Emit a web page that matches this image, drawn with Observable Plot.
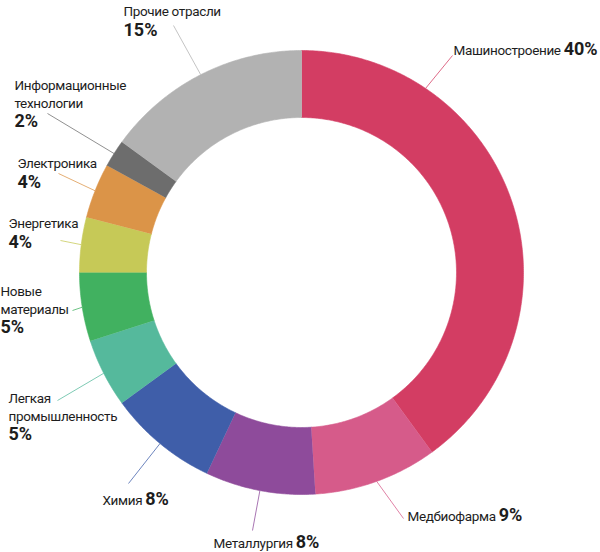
<!DOCTYPE html>
<html>
<head>
<meta charset="utf-8">
<script src="https://cdn.jsdelivr.net/npm/d3@7"></script>
<script src="https://cdn.jsdelivr.net/npm/@observablehq/plot@0.6"></script>
<style>
  html, body { margin: 0; padding: 0; background: #fff; }
</style>
</head>
<body>
<div id="chart"></div>
<script>
// ---- data ----
const names = [
  "Машиностроение", "Медбиофарма", "Металлургия", "Химия",
  "Легкая\nпромышленность", "Новые\nматериалы", "Энергетика",
  "Электроника", "Информационные\nтехнологии", "Прочие отрасли"
];
const shares = [40, 9, 8, 8, 5, 5, 4, 4, 2, 15];
const colors = [
  "#d33d63", "#d65b8a", "#8e4b9b", "#3f5ea9", "#55b99c",
  "#41b160", "#c6c957", "#db9448", "#6d6d6d", "#b2b2b2"
];
// inline labels (name and percent on one line) vs stacked labels
const inline = [true, true, true, true, false, false, false, false, false, false];

// ---- layout (pixels) ----
const W = 600, H = 552;
const CX = 301, CY = 272, R_OUT = 222, R_IN = 155;
const FS = 13.5, FS_PCT = 18;
// label anchor (left x, top of first line) and leader end point
const labelPos = [
  [453, 42], [407, 508], [213, 535], [102, 492], [8, 390],
  [0, 283], [8, 215], [17, 155], [14, 77], [123, 3]
];
const leaderEnd = [
  [452, 55], [403, 518], [252, 530], [128, 483], [57, 400],
  [72, 310], [60, 240], [58, 173], [47, 113], [173, 25]
];
const leaderFrac = [0.236, 0.5, 0.5, 0.5, 0.5, 0.5, 0.5, 0.5, 0.5, 0.5];

const px2x = px => (px - CX) / R_OUT;
const py2y = py => (CY - py) / R_OUT;
const rIn = R_IN / R_OUT;

// ---- build slices from shares ----
const total = d3.sum(shares);
const arcPts = [];
const leaders = [];
const labels = [];
let cum = 0;
names.forEach((name, i) => {
  const a0 = cum / total * 2 * Math.PI;
  const a1 = (cum + shares[i]) / total * 2 * Math.PI;
  cum += shares[i];
  const n = Math.max(4, Math.ceil((a1 - a0) / (Math.PI / 360)));
  for (let j = 0; j <= n; j++) {
    const t = a0 + (a1 - a0) * j / n;
    arcPts.push({name, x: Math.sin(t), y: Math.cos(t)});
  }
  for (let j = n; j >= 0; j--) {
    const t = a0 + (a1 - a0) * j / n;
    arcPts.push({name, x: rIn * Math.sin(t), y: rIn * Math.cos(t)});
  }
  const am = a0 + (a1 - a0) * leaderFrac[i];
  leaders.push({
    name,
    x1: Math.sin(am), y1: Math.cos(am),
    x2: px2x(leaderEnd[i][0]), y2: py2y(leaderEnd[i][1])
  });
  labels.push({
    name,
    label: inline[i] ? `${name} ${shares[i]}%` : `${name}\n${shares[i]}%`,
    x: px2x(labelPos[i][0]), y: py2y(labelPos[i][1])
  });
});

const plot = Plot.plot({
  width: W,
  height: H,
  margin: 0,
  style: {fontFamily: "Roboto, sans-serif", background: "#fff"},
  x: {domain: [-1, 1], range: [CX - R_OUT, CX + R_OUT], axis: null},
  y: {domain: [-1, 1], range: [CY + R_OUT, CY - R_OUT], axis: null},
  color: {domain: names, range: colors},
  marks: [
    Plot.line(arcPts, {x: "x", y: "y", z: "name", fill: "name", stroke: "name", strokeWidth: 0.6, curve: "linear"}),
    Plot.link(leaders, {x1: "x1", y1: "y1", x2: "x2", y2: "y2", stroke: "name", strokeWidth: 0.9, strokeOpacity: 0.85}),
    Plot.text(labels, {
      x: "x", y: "y", text: "label",
      textAnchor: "start", lineAnchor: "top", lineHeight: 1.3,
      fontSize: FS, fill: "#1d1d1d"
    })
  ]
});

// make the percentages bold and larger
const svgns = "http://www.w3.org/2000/svg";
plot.querySelectorAll("text, tspan").forEach(el => {
  if (el.children.length) return;
  const m = el.textContent.match(/^(.*?)\s*(\d+%)$/);
  if (!m) return;
  el.setAttribute("letter-spacing", "0");
  if (m[1]) {
    // inline: name + bold percent on the same line
    el.setAttribute("letter-spacing", "-0.35");
    el.textContent = m[1] + " ";
    const t = document.createElementNS(svgns, "tspan");
    t.setAttribute("font-weight", "bold");
    t.setAttribute("font-size", FS_PCT);
    t.setAttribute("letter-spacing", "0");
    t.textContent = m[2];
    el.appendChild(t);
  } else {
    // stacked: percent line on its own
    el.setAttribute("font-weight", "bold");
    el.setAttribute("font-size", FS_PCT);
    ["y", "dy"].forEach(a => {
      const v = el.getAttribute(a);
      if (v && /em$/.test(v)) el.setAttribute(a, parseFloat(v) * FS + 2);
    });
  }
});
plot.querySelectorAll("text").forEach(el => {
  if (!el.getAttribute("letter-spacing")) el.setAttribute("letter-spacing", "-0.35");
});

document.getElementById("chart").appendChild(plot);
</script>
</body>
</html>
